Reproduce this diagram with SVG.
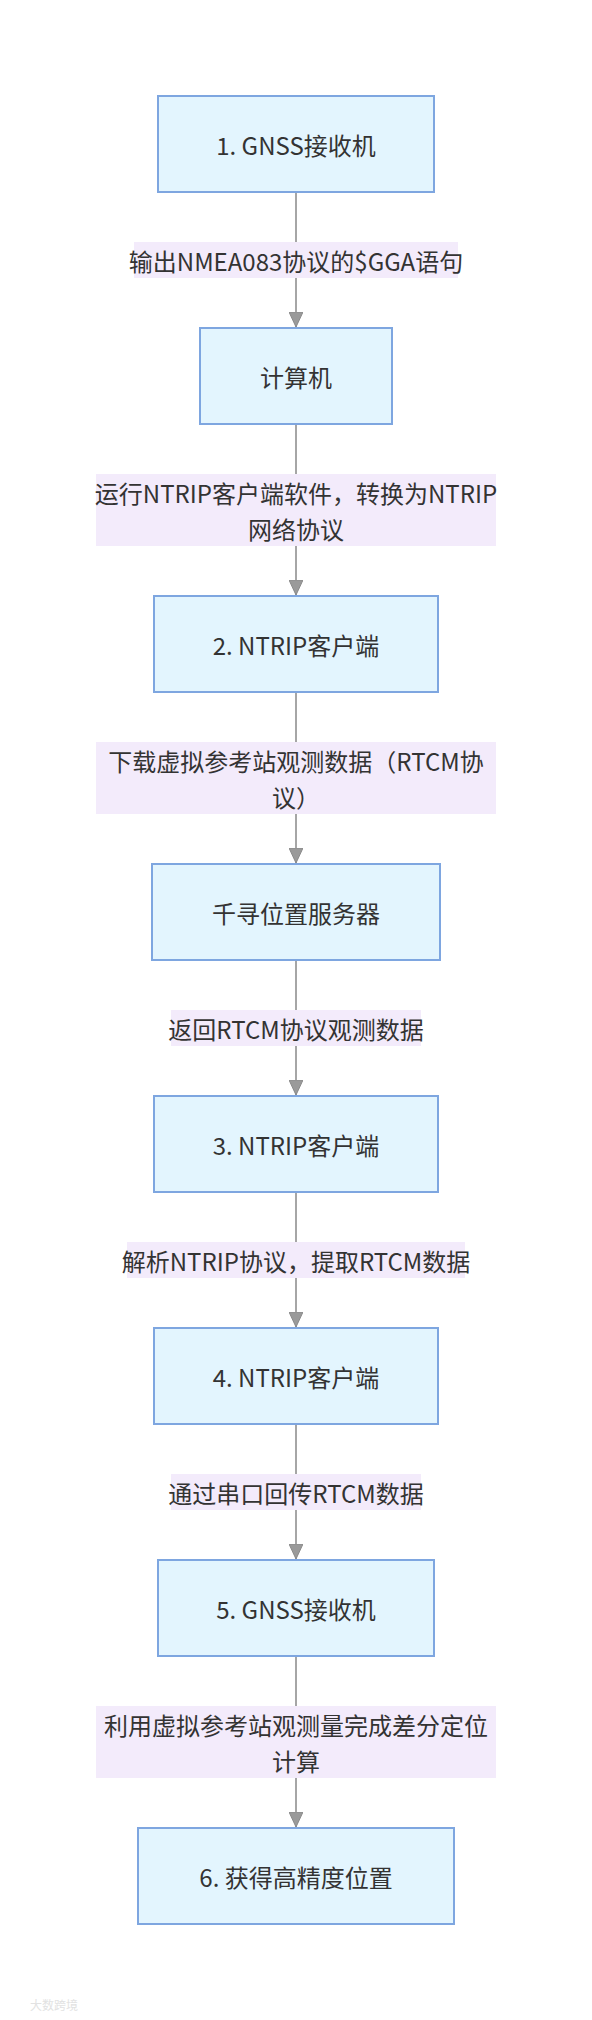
<svg xmlns="http://www.w3.org/2000/svg" width="592" height="2020" viewBox="0 0 592 2020">
<style>
.node rect{fill:#e3f5fe;stroke:#7ea6e0;stroke-width:2}
text{font-family:"Noto Sans CJK SC","Noto Sans",sans-serif;font-size:24px;fill:#333;text-anchor:middle;dominant-baseline:central}
.edge{stroke:#a6a6a6;stroke-width:2;fill:none;marker-end:url(#arr)}
.lbl rect{fill:#f3ebfb;stroke:none}
.wm{font-size:12px;fill:#e2e2e2;text-anchor:start}
</style>
<defs>
<marker id="arr" viewBox="0 0 16 14" refX="15" refY="7" markerWidth="16" markerHeight="14" markerUnits="userSpaceOnUse" orient="auto">
<path d="M0,0 L15,7 L0,14 Z" fill="#9a9a9a" stroke="#8a8a8a" stroke-width="1"/>
</marker>
</defs>
<rect width="592" height="2020" fill="#ffffff"/>
<g id="connectors">
<path class="edge" d="M296,192 L296,327"/>
<path class="edge" d="M296,424 L296,595"/>
<path class="edge" d="M296,692 L296,863"/>
<path class="edge" d="M296,960 L296,1095"/>
<path class="edge" d="M296,1192 L296,1327"/>
<path class="edge" d="M296,1424 L296,1559"/>
<path class="edge" d="M296,1656 L296,1827"/>
</g>
<g id="edge-labels">
<g class="lbl" id="label1"><rect x="134" y="242" width="324" height="36"/><text x="296" y="260">输出NMEA083协议的$GGA语句</text></g>
<g class="lbl" id="label2"><rect x="96" y="474" width="400" height="72"/><text x="296" y="492">运行NTRIP客户端软件，转换为NTRIP</text><text x="296" y="528">网络协议</text></g>
<g class="lbl" id="label3"><rect x="96" y="742" width="400" height="72"/><text x="296" y="760">下载虚拟参考站观测数据（RTCM协</text><text x="296" y="796">议）</text></g>
<g class="lbl" id="label4"><rect x="171" y="1010" width="250" height="36"/><text x="296" y="1028">返回RTCM协议观测数据</text></g>
<g class="lbl" id="label5"><rect x="127" y="1242" width="338" height="36"/><text x="296" y="1260">解析NTRIP协议，提取RTCM数据</text></g>
<g class="lbl" id="label6"><rect x="171" y="1474" width="250" height="36"/><text x="296" y="1492">通过串口回传RTCM数据</text></g>
<g class="lbl" id="label7"><rect x="96" y="1706" width="400" height="72"/><text x="296" y="1724">利用虚拟参考站观测量完成差分定位</text><text x="296" y="1760">计算</text></g>
</g>
<g class="node" id="node1"><rect x="158" y="96" width="276" height="96"/><text x="296" y="144">1. GNSS接收机</text></g>
<g class="node" id="node2"><rect x="200" y="328" width="192" height="96"/><text x="296" y="376">计算机</text></g>
<g class="node" id="node3"><rect x="154" y="596" width="284" height="96"/><text x="296" y="644">2. NTRIP客户端</text></g>
<g class="node" id="node4"><rect x="152" y="864" width="288" height="96"/><text x="296" y="912">千寻位置服务器</text></g>
<g class="node" id="node5"><rect x="154" y="1096" width="284" height="96"/><text x="296" y="1144">3. NTRIP客户端</text></g>
<g class="node" id="node6"><rect x="154" y="1328" width="284" height="96"/><text x="296" y="1376">4. NTRIP客户端</text></g>
<g class="node" id="node7"><rect x="158" y="1560" width="276" height="96"/><text x="296" y="1608">5. GNSS接收机</text></g>
<g class="node" id="node8"><rect x="138" y="1828" width="316" height="96"/><text x="296" y="1876">6. 获得高精度位置</text></g>
<text class="wm" x="30" y="2004">大数跨境</text>
</svg>
